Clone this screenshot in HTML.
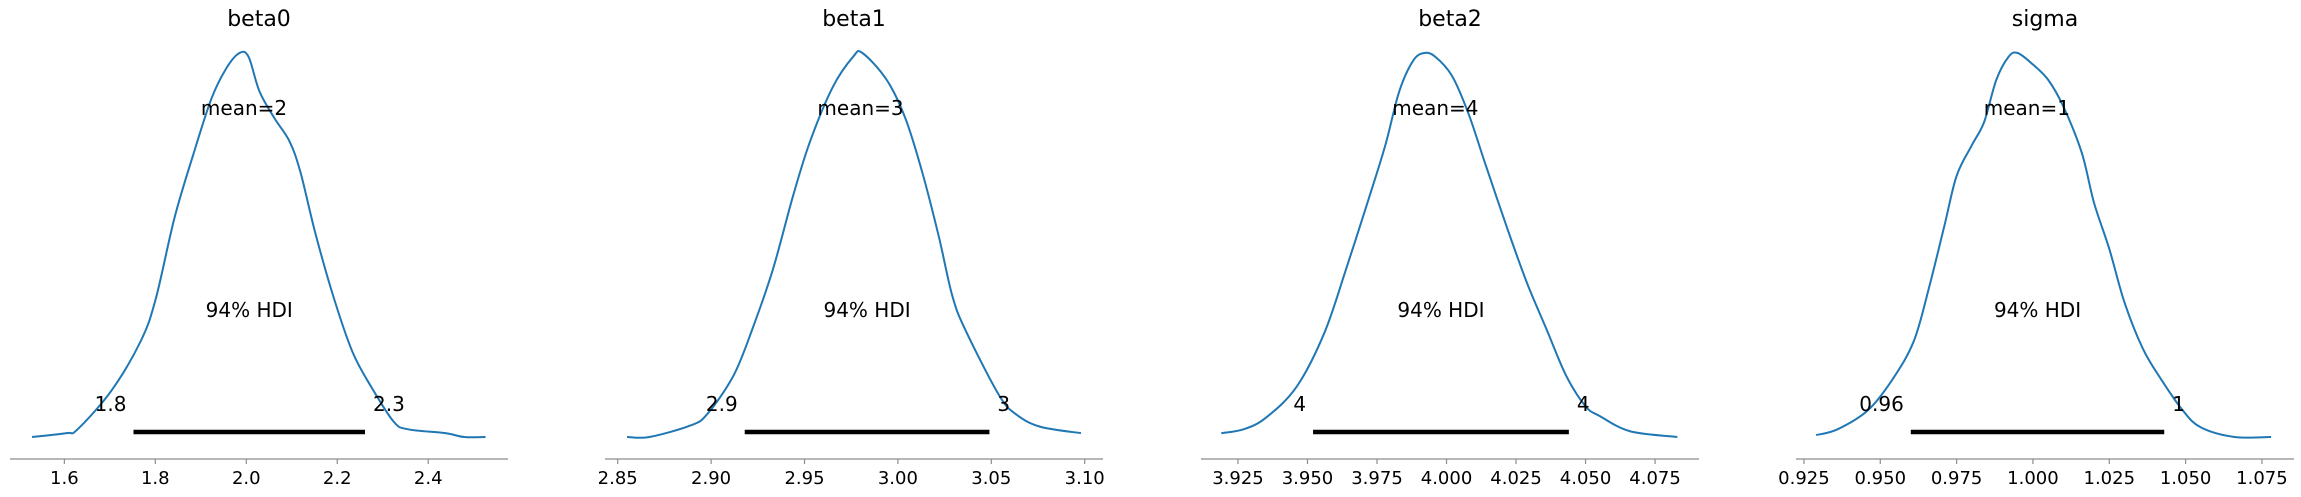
<!DOCTYPE html>
<html><head><meta charset="utf-8"><style>
html,body{margin:0;padding:0;background:#fff;}
svg{display:block;font-family:"DejaVu Sans","Liberation Sans",sans-serif;}
</style></head><body>
<svg id="chart" width="2301" height="497" viewBox="0 0 2301 497" xmlns="http://www.w3.org/2000/svg"></svg>
<script>
const paramNames = ["beta0","beta1","beta2","sigma"];
const meanValues = [1.995, 2.980, 3.996, 0.998];
const meanLabels = ["mean=2","mean=3","mean=4","mean=1"];
const hdiLow = [1.752, 2.918, 3.952, 0.960];
const hdiHigh = [2.261, 3.049, 4.044, 1.043];
const hdiLowLabels = ["1.8","2.9","4","0.96"];
const hdiHighLabels = ["2.3","3","4","1"];
const axisDomains = [[1.4805,2.5754],[2.8432,3.1098],[3.9117,4.0908],[0.9224,1.0855]];
const tickValues = [
  [1.6,1.8,2.0,2.2,2.4],
  [2.85,2.90,2.95,3.00,3.05,3.10],
  [3.925,3.950,3.975,4.000,4.025,4.050,4.075],
  [0.925,0.950,0.975,1.000,1.025,1.050,1.075]
];
const tickLabels = [
  ["1.6","1.8","2.0","2.2","2.4"],
  ["2.85","2.90","2.95","3.00","3.05","3.10"],
  ["3.925","3.950","3.975","4.000","4.025","4.050","4.075"],
  ["0.925","0.950","0.975","1.000","1.025","1.050","1.075"]
];
const kdeX0 = [1.529,1.605,1.629,1.703,1.768,1.801,1.842,1.882,1.923,1.956,1.985,2.005,2.029,2.062,2.095,2.119,2.152,2.193,2.234,2.275,2.324,2.356,2.438,2.479,2.526];
const kdeY0 = [0,0.01,0.02,0.12,0.25,0.36,0.57,0.73,0.88,0.96,1.0,0.99,0.90,0.83,0.77,0.69,0.53,0.36,0.22,0.13,0.04,0.02,0.01,0,0];
const kdeX1 = [2.855,2.867,2.889,2.898,2.912,2.922,2.933,2.944,2.953,2.965,2.976,2.981,2.994,3.004,3.013,3.022,3.029,3.036,3.054,3.063,3.076,3.098];
const kdeY1 = [0,0,0.03,0.06,0.16,0.28,0.435,0.63,0.77,0.91,0.99,1.0,0.93,0.83,0.69,0.52,0.37,0.28,0.11,0.06,0.027,0.01];
const kdeX2 = [3.919,3.927,3.935,3.946,3.956,3.964,3.972,3.978,3.983,3.988,3.992,3.996,4.002,4.008,4.014,4.022,4.029,4.036,4.043,4.050,4.055,4.066,4.083];
const kdeY2 = [0.01,0.02,0.05,0.13,0.27,0.44,0.62,0.76,0.90,0.98,1.0,0.99,0.94,0.84,0.71,0.54,0.40,0.28,0.16,0.08,0.055,0.015,0.0];
const kdeX3 = [0.929,0.936,0.946,0.954,0.961,0.966,0.971,0.975,0.980,0.984,0.988,0.992,0.995,1.000,1.005,1.010,1.016,1.020,1.025,1.030,1.036,1.042,1.049,1.055,1.066,1.078];
const kdeY3 = [0.005,0.02,0.07,0.15,0.25,0.39,0.55,0.68,0.76,0.82,0.93,0.99,1.0,0.97,0.93,0.86,0.74,0.61,0.49,0.35,0.23,0.15,0.07,0.025,0.0,0.0];
const kdeXs = [kdeX0,kdeX1,kdeX2,kdeX3];
const kdeYs = [kdeY0,kdeY1,kdeY2,kdeY3];

const NS = "http://www.w3.org/2000/svg";
const svg = document.getElementById("chart");
const panelLeft = [10,605,1201,1796];
const panelWidth = 498;
const baseY = 437, peakY = 53, axisY = 459;
function el(tag, attrs, parent){
  const e = document.createElementNS(NS, tag);
  for (const k in attrs) e.setAttribute(k, attrs[k]);
  (parent||svg).appendChild(e);
  return e;
}
function xScale(i, v){
  const d = axisDomains[i];
  return panelLeft[i] + (v - d[0]) / (d[1] - d[0]) * panelWidth;
}
function yScale(h){ return baseY - h * (baseY - peakY); }
function smoothPath(pts){
  let d = "M" + pts[0][0].toFixed(2) + "," + pts[0][1].toFixed(2);
  for (let k = 0; k < pts.length - 1; k++){
    const p0 = pts[k-1] || pts[k], p1 = pts[k], p2 = pts[k+1], p3 = pts[k+2] || p2;
    const c1x = p1[0] + (p2[0]-p0[0])/6, c1y = p1[1] + (p2[1]-p0[1])/6;
    const c2x = p2[0] - (p3[0]-p1[0])/6, c2y = p2[1] - (p3[1]-p1[1])/6;
    d += " C" + c1x.toFixed(2)+","+c1y.toFixed(2)+" "+c2x.toFixed(2)+","+c2y.toFixed(2)+" "+p2[0].toFixed(2)+","+p2[1].toFixed(2);
  }
  return d;
}

for (let i = 0; i < 4; i++){
  const g = el("g", {});
  
  
  const cx = panelLeft[i] + panelWidth/2;
  const title = el("text", {x: cx, y: 26, "text-anchor":"middle", "font-size":"22", fill:"#000"}, g);
  title.textContent = paramNames[i];
  
  

  const axis = el("line", {x1: panelLeft[i], x2: panelLeft[i]+panelWidth, y1: axisY, y2: axisY, stroke:"#8c8c8c", "stroke-width":"1.3"}, g);
  
  
  for (let t = 0; t < tickValues[i].length; t++){
    const tx = xScale(i, tickValues[i][t]);
    const tk = el("line", {x1: tx, x2: tx, y1: axisY, y2: axisY+5, stroke:"#8c8c8c", "stroke-width":"1.2"}, g);
    
    
    const tl = el("text", {x: tx, y: 484, "text-anchor":"middle", "font-size":"18", fill:"#000"}, g);
    tl.textContent = tickLabels[i][t];
    
    
  }

  const pts = [];
  for (let p = 0; p < kdeXs[i].length; p++){
    pts.push([xScale(i, kdeXs[i][p]), yScale(kdeYs[i][p])]);
  }
  const path = el("path", {d: smoothPath(pts), fill:"none", stroke:"#1f77b4", "stroke-width":"2", "stroke-linejoin":"round"}, g);
  
  

  const x1 = xScale(i, hdiLow[i]), x2 = xScale(i, hdiHigh[i]);
  const bar = el("line", {x1: x1, x2: x2, y1: 432, y2: 432, stroke:"#000", "stroke-width":"4.5"}, g);
  
  

  const ml = el("text", {x: xScale(i, meanValues[i]), y: 115, "text-anchor":"middle", "font-size":"20", fill:"#000"}, g);
  ml.textContent = meanLabels[i];
  
  

  const hl = el("text", {x: (x1+x2)/2, y: 317, "text-anchor":"middle", "font-size":"20", fill:"#000"}, g);
  hl.textContent = "94% HDI";
  
  

  const lo = el("text", {x: x1-7, y: 411, "text-anchor":"end", "font-size":"20", fill:"#000"}, g);
  lo.textContent = hdiLowLabels[i];
  
  
  const hi = el("text", {x: x2+8, y: 411, "text-anchor":"start", "font-size":"20", fill:"#000"}, g);
  hi.textContent = hdiHighLabels[i];
  
  
}
</script>
</body></html>
